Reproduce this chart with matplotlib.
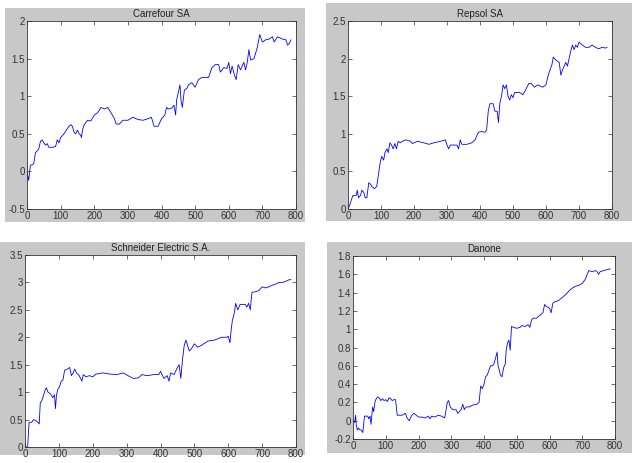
import matplotlib
matplotlib.use("Agg")
import matplotlib.pyplot as plt
from matplotlib.patches import Rectangle
from matplotlib.ticker import FuncFormatter

plt.rcParams['font.family'] = ['Liberation Sans', 'DejaVu Sans']

titles = ["Carrefour SA", "Repsol SA", "Schneider Electric S.A.", "Danone"]

carrefour_x = [0, 5, 10, 20, 25, 30, 35, 40, 45, 50, 55, 60, 65, 75, 85, 90, 95, 100, 110, 120, 125, 130,
               135, 140, 145, 150, 155, 160, 162, 165, 170, 180, 190, 200, 210, 220, 230, 240, 250, 260,
               265, 275, 285, 300, 315, 330, 345, 360, 370, 378, 390, 400, 410, 415, 420, 430, 437, 442,
               445, 450, 455, 458, 462, 468, 475, 480, 490, 500, 510, 520, 530, 540, 550, 560, 570, 575,
               585, 595, 600, 605, 610, 617, 622, 628, 635, 645, 650, 655, 660, 665, 675, 685, 692, 700,
               710, 720, 730, 735, 745, 760, 770, 775, 780, 785]
carrefour_y = [0.0, -0.12, 0.08, 0.1, 0.25, 0.27, 0.3, 0.4, 0.42, 0.38, 0.35, 0.37, 0.32, 0.32, 0.33, 0.42,
               0.38, 0.45, 0.5, 0.57, 0.6, 0.62, 0.6, 0.52, 0.5, 0.55, 0.5, 0.48, 0.45, 0.55, 0.62, 0.68,
               0.67, 0.75, 0.78, 0.85, 0.83, 0.85, 0.78, 0.7, 0.63, 0.63, 0.68, 0.68, 0.72, 0.69, 0.68,
               0.7, 0.72, 0.6, 0.6, 0.7, 0.75, 0.85, 0.83, 0.84, 0.88, 0.75, 0.95, 1.05, 1.15, 0.95, 0.85,
               1.08, 1.1, 1.15, 1.18, 1.12, 1.22, 1.25, 1.25, 1.25, 1.38, 1.42, 1.42, 1.32, 1.38, 1.37,
               1.45, 1.3, 1.4, 1.28, 1.22, 1.42, 1.35, 1.45, 1.35, 1.45, 1.62, 1.48, 1.5, 1.65, 1.82,
               1.72, 1.75, 1.76, 1.79, 1.72, 1.79, 1.76, 1.75, 1.68, 1.7, 1.75]

repsol_x = [0, 5, 10, 15, 25, 28, 32, 38, 42, 48, 52, 57, 63, 68, 72, 80, 87, 92, 97, 102, 108, 112, 118,
            122, 127, 132, 137, 142, 147, 152, 158, 165, 175, 190, 195, 210, 230, 245, 260, 280, 295, 300,
            305, 310, 320, 330, 335, 340, 345, 360, 375, 385, 395, 405, 415, 420, 425, 430, 440, 445, 452,
            456, 460, 465, 470, 475, 480, 485, 490, 495, 500, 505, 520, 530, 540, 548, 555, 565, 575, 590,
            600, 605, 612, 618, 622, 630, 640, 645, 650, 655, 660, 665, 670, 675, 680, 685, 690, 695, 700,
            710, 720, 730, 740, 750, 760, 770, 780, 785]
repsol_y = [0.0, 0.05, 0.12, 0.18, 0.18, 0.25, 0.15, 0.18, 0.25, 0.22, 0.15, 0.15, 0.35, 0.33, 0.3, 0.27,
            0.3, 0.45, 0.6, 0.7, 0.65, 0.75, 0.8, 0.75, 0.88, 0.85, 0.8, 0.87, 0.8, 0.9, 0.88, 0.9, 0.92,
            0.9, 0.87, 0.9, 0.88, 0.86, 0.88, 0.9, 0.92, 0.85, 0.8, 0.85, 0.85, 0.85, 0.8, 0.92, 0.86,
            0.86, 0.88, 0.92, 1.02, 1.03, 1.02, 1.05, 1.3, 1.4, 1.4, 1.3, 1.3, 1.15, 1.4, 1.5, 1.65, 1.6,
            1.65, 1.5, 1.45, 1.52, 1.48, 1.55, 1.55, 1.52, 1.6, 1.67, 1.67, 1.62, 1.65, 1.62, 1.65, 1.75,
            1.85, 1.92, 2.02, 1.98, 1.95, 1.78, 1.85, 1.9, 1.95, 1.9, 2.0, 2.1, 2.18, 2.12, 2.18, 2.15,
            2.22, 2.18, 2.15, 2.15, 2.18, 2.15, 2.13, 2.15, 2.14, 2.15]

schneider_x = [0, 5, 8, 12, 20, 25, 32, 38, 42, 45, 50, 55, 60, 63, 68, 75, 82, 87, 90, 93, 97, 102, 107,
               112, 117, 125, 132, 137, 142, 147, 152, 160, 168, 172, 180, 190, 200, 210, 230, 250, 270,
               290, 310, 320, 335, 345, 360, 380, 395, 400, 410, 420, 425, 430, 440, 450, 455, 460, 465,
               470, 475, 480, 485, 490, 500, 510, 520, 540, 560, 580, 595, 600, 605, 608, 612, 618, 622,
               628, 635, 650, 655, 660, 665, 670, 680, 690, 700, 710, 720, 730, 740, 750, 760, 770, 780, 785]
schneider_y = [0.0, 0.0, 0.02, 0.45, 0.45, 0.5, 0.48, 0.45, 0.42, 0.8, 0.85, 0.95, 1.05, 1.08, 1.0, 0.97,
               0.9, 0.95, 0.7, 0.95, 1.05, 1.1, 1.2, 1.22, 1.4, 1.42, 1.45, 1.3, 1.35, 1.42, 1.35, 1.3,
               1.2, 1.32, 1.28, 1.3, 1.28, 1.33, 1.35, 1.33, 1.32, 1.35, 1.28, 1.25, 1.26, 1.32, 1.3,
               1.32, 1.32, 1.38, 1.25, 1.3, 1.2, 1.35, 1.32, 1.45, 1.5, 1.25, 1.6, 1.85, 1.95, 1.85, 1.75,
               1.78, 1.88, 1.82, 1.85, 1.93, 1.95, 2.0, 2.0, 2.02, 1.9, 2.1, 2.3, 2.45, 2.62, 2.5, 2.6,
               2.6, 2.55, 2.62, 2.5, 2.82, 2.83, 2.85, 2.92, 2.9, 2.92, 2.95, 2.97, 3.0, 3.0, 3.02, 3.05, 3.05]

danone_x = [0, 5, 8, 10, 13, 17, 20, 25, 30, 35, 40, 45, 48, 52, 55, 60, 63, 68, 75, 80, 85, 90, 95, 100,
            105, 110, 115, 120, 125, 130, 135, 140, 150, 160, 165, 172, 178, 185, 190, 200, 210, 220, 230,
            235, 240, 250, 260, 270, 280, 288, 292, 297, 305, 315, 320, 325, 330, 335, 340, 345, 355, 365,
            378, 385, 390, 395, 400, 405, 410, 415, 420, 425, 430, 435, 440, 443, 447, 450, 455, 460, 465,
            468, 472, 476, 480, 484, 490, 500, 510, 515, 525, 535, 540, 545, 550, 560, 570, 580, 585, 590,
            600, 605, 610, 615, 620, 630, 640, 650, 660, 670, 680, 690, 700, 710, 715, 720, 730, 740, 745,
            750, 755, 765, 775, 785]
danone_y = [0.0, -0.02, 0.06, -0.05, -0.1, -0.08, -0.1, -0.1, -0.13, 0.05, 0.05, 0.05, 0.02, 0.05, -0.04,
            0.15, 0.1, 0.22, 0.26, 0.25, 0.22, 0.24, 0.22, 0.23, 0.21, 0.25, 0.24, 0.22, 0.23, 0.23, 0.06,
            0.06, 0.06, 0.08, 0.03, 0.0, 0.05, 0.08, 0.07, 0.04, 0.04, 0.03, 0.05, 0.02, 0.05, 0.04, 0.06,
            0.05, 0.03, 0.2, 0.22, 0.15, 0.12, 0.12, 0.08, 0.1, 0.12, 0.18, 0.12, 0.15, 0.15, 0.17, 0.18,
            0.2, 0.38, 0.35, 0.4, 0.48, 0.5, 0.55, 0.6, 0.6, 0.62, 0.68, 0.75, 0.6, 0.55, 0.5, 0.48, 0.58,
            0.62, 0.78, 0.85, 0.88, 0.77, 1.03, 1.02, 1.01, 1.02, 1.04, 1.03, 1.05, 1.02, 1.1, 1.12, 1.12,
            1.15, 1.18, 1.27, 1.25, 1.23, 1.18, 1.28, 1.3, 1.3, 1.32, 1.35, 1.38, 1.42, 1.45, 1.47, 1.48,
            1.5, 1.55, 1.6, 1.64, 1.63, 1.64, 1.63, 1.6, 1.63, 1.64, 1.65, 1.66]

xs = [carrefour_x, repsol_x, schneider_x, danone_x]
ys = [carrefour_y, repsol_y, schneider_y, danone_y]
ylims = [(-0.5, 2), (0, 2.5), (0, 3.5), (-0.2, 1.8)]
ysteps = [0.5, 0.5, 0.5, 0.2]
x_ticks = [0, 100, 200, 300, 400, 500, 600, 700, 800]

W, H = 632, 463
fig = plt.figure(figsize=(W / 100, H / 100), dpi=100, facecolor='white')

# gray panel backgrounds (pixel coords: x0, y0(top), x1, y1)
panels = [(5, 8, 305, 222), (326, 3, 632, 221), (0, 242, 305, 455), (327, 242, 632, 453)]
for x0, y0, x1, y1 in panels:
    fig.patches.append(Rectangle((x0 / W, 1 - y1 / H), (x1 - x0) / W, (y1 - y0) / H,
                                 transform=fig.transFigure, facecolor='#c8c8c8',
                                 edgecolor='none', zorder=-10))

# axes boxes in pixels: left, top, right, bottom
boxes = [(27, 21, 296, 209), (348, 21, 612, 209), (25, 255, 296, 447), (353, 256, 615, 439)]

fmt = FuncFormatter(lambda v, p: ('%g' % round(v, 2)))

for i in range(4):
    l, t, r, b = boxes[i]
    ax = fig.add_axes([l / W, 1 - b / H, (r - l) / W, (b - t) / H])
    ax.set_facecolor('white')
    ax.plot(xs[i], ys[i], color='#0000ff', linewidth=0.6)
    ax.set_xlim(0, 800)
    ax.set_ylim(*ylims[i])
    ax.set_xticks(x_ticks)
    lo, hi = ylims[i]
    n = int(round((hi - lo) / ysteps[i]))
    ax.set_yticks([lo + k * ysteps[i] for k in range(n + 1)])
    ax.yaxis.set_major_formatter(fmt)
    ax.tick_params(direction='in', length=3, width=0.5, top=True, right=True,
                   labelsize=7, colors='#333333', pad=1.5)
    for s in ax.spines.values():
        s.set_linewidth(0.6)
        s.set_color('#333333')
    ax.set_title(titles[i], fontsize=7, color='#222222', pad=3)

fig.savefig('out.png', dpi=100, facecolor='white')
